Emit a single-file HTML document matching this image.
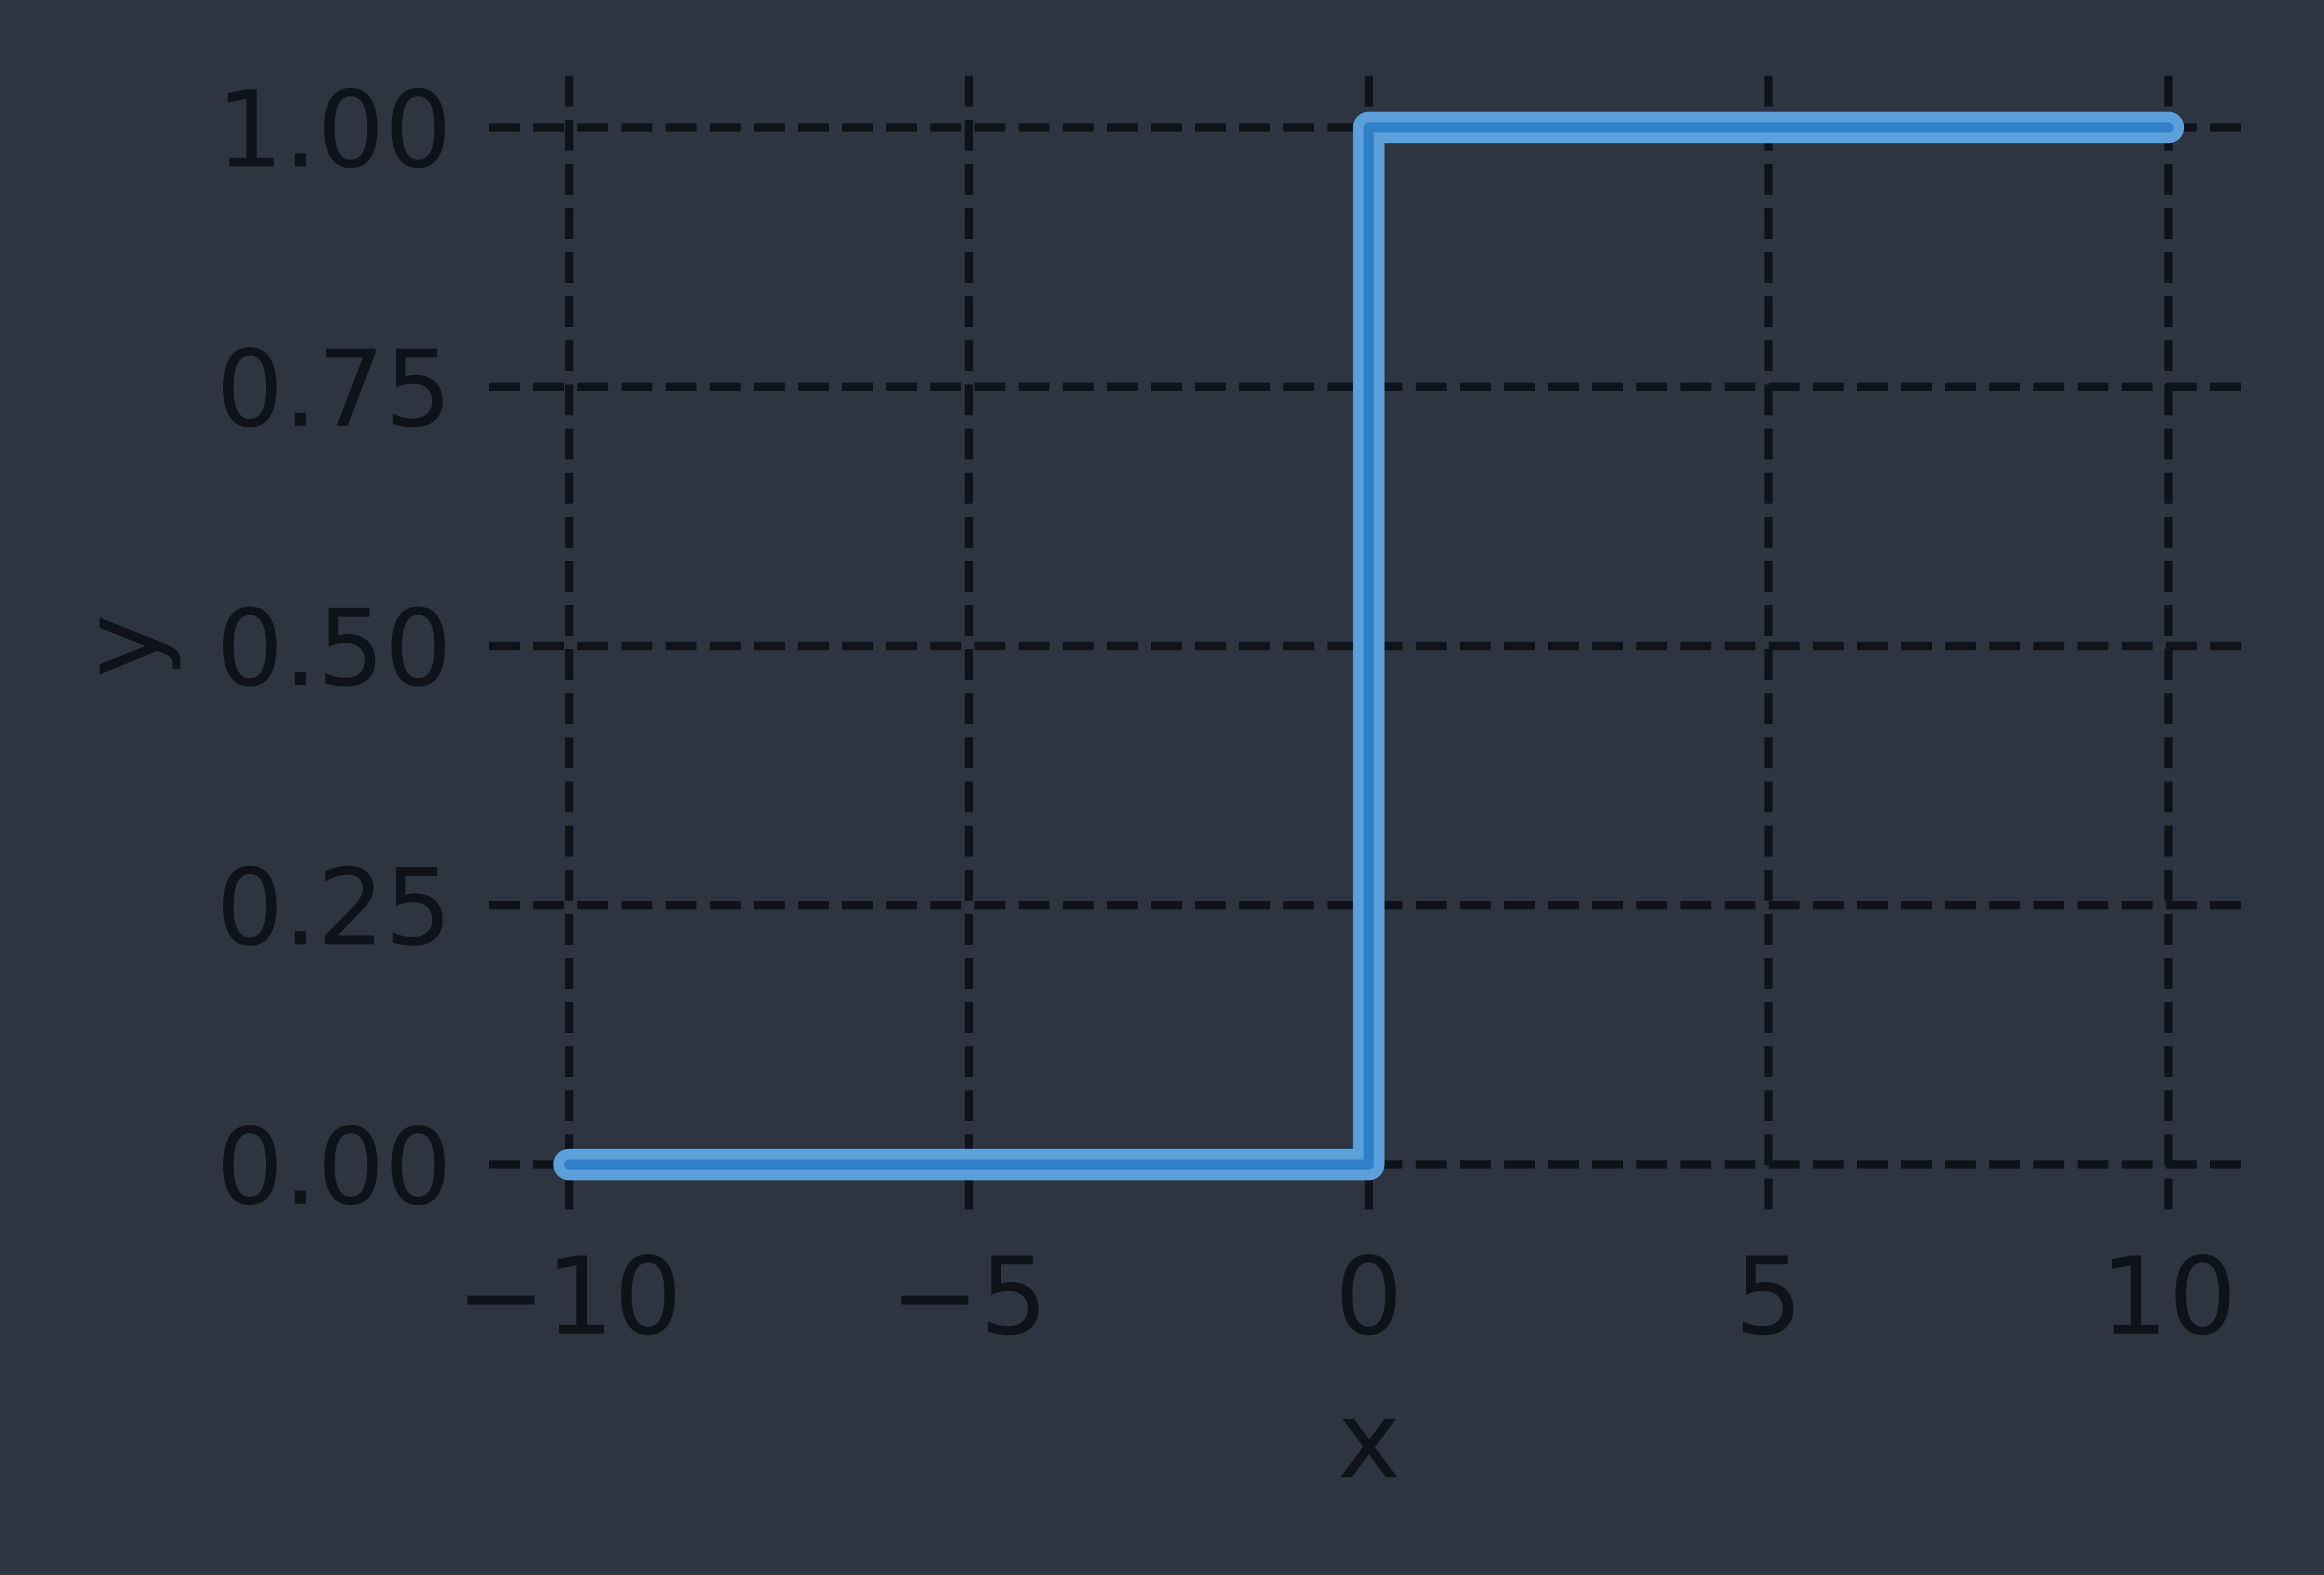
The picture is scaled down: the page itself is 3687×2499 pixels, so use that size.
<!DOCTYPE html>
<html><head><meta charset="utf-8"><style>
html,body{margin:0;padding:0;background:#2e3440;}
svg{display:block;}
text{font-family:"DejaVu Sans","Liberation Sans",sans-serif;fill:#0f1218;}
</style></head><body>
<svg id="chart" width="3687" height="2499" viewBox="0 0 3687 2499" xmlns="http://www.w3.org/2000/svg">
<rect width="3687" height="2499" fill="#2e3440"/>
<g id="grid"></g>
<g id="ticks"></g>
<g id="series"></g>
<text x="2172" y="2344" font-size="170" text-anchor="middle">x</text>
<text transform="translate(251,1025) rotate(-90)" font-size="170" text-anchor="middle">y</text>
</svg>
<script>
const xTicks = [-10, -5, 0, 5, 10];
const xTickLabels = ["\u221210", "\u22125", "0", "5", "10"];
const yTicks = [0, 0.25, 0.5, 0.75, 1];
const yTickLabels = ["0.00", "0.25", "0.50", "0.75", "1.00"];
const stepX = [-10, 0, 0, 10];
const stepY = [0, 0, 1, 1];

const NS = "http://www.w3.org/2000/svg";
const L = 776, R = 3567, T = 120, B = 1930;
const xMin = -11, xMax = 11, yMin = -0.05, yMax = 1.05;
function sx(v){ return L + (v - xMin) / (xMax - xMin) * (R - L); }
function sy(v){ return B - (v - yMin) / (yMax - yMin) * (B - T); }
function mk(tag, attrs, parent){
  const e = document.createElementNS(NS, tag);
  for (const k in attrs) e.setAttribute(k, attrs[k]);
  parent.appendChild(e);
  return e;
}
const grid = document.getElementById('grid');
const ticks = document.getElementById('ticks');
const series = document.getElementById('series');
const dash = {stroke:'#0f1218','stroke-width':13,'stroke-dasharray':'49 21'};

xTicks.forEach((v,i)=>{
  const ln = mk('line', Object.assign({x1:sx(v),x2:sx(v),y1:T,y2:B}, dash), grid);
  
  
  const t = mk('text', {x:sx(v), y:2116, 'font-size':170, 'text-anchor':'middle'}, ticks);
  t.textContent = xTickLabels[i];
  
  
});
yTicks.forEach((v,i)=>{
  const ln = mk('line', Object.assign({x1:L,x2:R,y1:sy(v),y2:sy(v)}, dash), grid);
  
  
  const t = mk('text', {x:717, y:sy(v)+62, 'font-size':168, 'text-anchor':'end'}, ticks);
  t.textContent = yTickLabels[i];
  
  
});
const pts = stepX.map((v,i)=>sx(v)+','+sy(stepY[i])).join(' ');
const outer = mk('polyline', {points:pts, fill:'none', stroke:'#5b9fdb', 'stroke-width':50, 'stroke-linejoin':'round', 'stroke-linecap':'round'}, series);


const inner = mk('polyline', {points:pts, fill:'none', stroke:'#2f80c8', 'stroke-width':16, 'stroke-linejoin':'round', 'stroke-linecap':'round'}, series);


</script>
</body></html>
